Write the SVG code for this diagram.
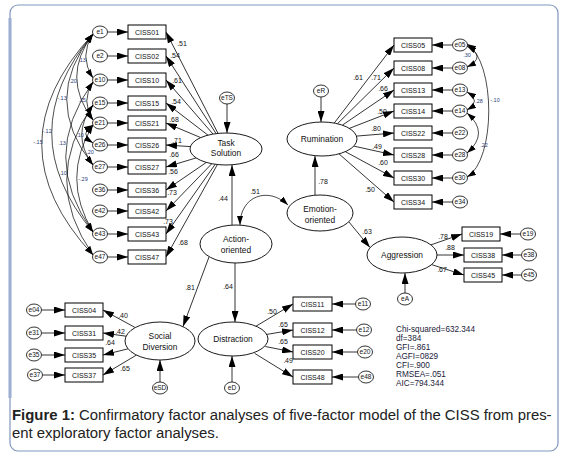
<svg xmlns="http://www.w3.org/2000/svg" width="561" height="454" viewBox="0 0 561 454">
<style>
text{font-family:"Liberation Sans",Arial,sans-serif;fill:#111}
.box{fill:#fff;stroke:#000;stroke-width:1}
.lat{fill:#fff;stroke:#000;stroke-width:0.9}
.err{fill:#fff;stroke:#000;stroke-width:0.8}
.bt{font-size:7px;text-anchor:middle}
.et{font-size:6.5px;text-anchor:middle}
.lt{font-size:8.4px;text-anchor:middle}
.num{font-size:7px;text-anchor:middle}
.cv{font-size:5.5px;text-anchor:middle;fill:#2c3e78}
.st{font-size:8.2px;fill:#1a1a3a}
.c{fill:none;stroke:#000;stroke-width:0.8;marker-end:url(#ah)}
.cc{fill:none;stroke:#000;stroke-width:0.7;marker-start:url(#ah2);marker-end:url(#ah2)}
.cap{font-size:14.9px;fill:#222}
</style>
<defs>
<marker id="ah" markerUnits="userSpaceOnUse" markerWidth="11" markerHeight="7" refX="11" refY="3.5" orient="auto"><path d="M0,0 L11,3.5 L0,7 z" fill="#000"/></marker>
<marker id="ah2" markerUnits="userSpaceOnUse" markerWidth="9" markerHeight="6" refX="9" refY="3" orient="auto-start-reverse"><path d="M0,0 L9,3 L0,6 z" fill="#000"/></marker>
</defs>
<rect x="0" y="0" width="561" height="454" fill="#fff"/>
<rect x="8" y="18" width="4" height="380" fill="#c9d4ea"/>
<rect x="10" y="5" width="548" height="446" rx="8" fill="none" stroke="#8097bd" stroke-width="1.2"/>

<g id="connectors">
<line class="c" x1="107.5" y1="32" x2="128" y2="32"/>
<line class="c" x1="107.5" y1="56" x2="128" y2="56"/>
<line class="c" x1="107.5" y1="80" x2="128" y2="80"/>
<line class="c" x1="107.5" y1="103" x2="128" y2="103"/>
<line class="c" x1="107.5" y1="123" x2="128" y2="123"/>
<line class="c" x1="107.5" y1="145" x2="128" y2="145"/>
<line class="c" x1="107.5" y1="167" x2="128" y2="167"/>
<line class="c" x1="107.5" y1="190" x2="128" y2="190"/>
<line class="c" x1="107.5" y1="211" x2="128" y2="211"/>
<line class="c" x1="107.5" y1="234" x2="128" y2="234"/>
<line class="c" x1="107.5" y1="257" x2="128" y2="257"/>
<line class="c" x1="218" y1="133.4" x2="166" y2="32"/>
<line class="c" x1="216.1" y1="133.6" x2="166" y2="56"/>
<line class="c" x1="213" y1="134.1" x2="166" y2="80"/>
<line class="c" x1="208" y1="135.2" x2="166" y2="103"/>
<line class="c" x1="200.7" y1="137.6" x2="166" y2="123"/>
<line class="c" x1="190.4" y1="146.6" x2="166" y2="145"/>
<line class="c" x1="196.2" y1="157.9" x2="166" y2="167"/>
<line class="c" x1="206.4" y1="162.4" x2="166" y2="190"/>
<line class="c" x1="211.8" y1="163.7" x2="166" y2="211"/>
<line class="c" x1="215.2" y1="164.3" x2="166" y2="234"/>
<line class="c" x1="217.4" y1="164.5" x2="166" y2="257"/>
<line class="c" x1="227" y1="104" x2="227" y2="133"/>
<path class="cc" d="M93,34 Q78.5,56 93,78"/>
<path class="cc" d="M93,34 Q60.5,77 93,120"/>
<path class="cc" d="M93,34 Q40.5,99.5 93,165"/>
<path class="cc" d="M93,82 Q80.5,101 93,120"/>
<path class="cc" d="M93,34 Q10.5,133 93,232"/>
<path class="cc" d="M93,34 Q-9.5,144.5 93,255"/>
<path class="cc" d="M93,125 Q78.5,133.5 93,143"/>
<path class="cc" d="M93,82 Q38.5,157 93,232"/>
<path class="cc" d="M93,105 Q70.5,135 93,165"/>
<path class="cc" d="M93,105 Q40.5,180 93,255"/>
<path class="cc" d="M93,125 Q60.5,178 93,232"/>
<line class="c" x1="321" y1="97" x2="321" y2="122"/>
<line class="c" x1="334.2" y1="123.1" x2="394" y2="45"/>
<line class="c" x1="337.5" y1="123.7" x2="394" y2="68"/>
<line class="c" x1="342.3" y1="125.2" x2="394" y2="90"/>
<line class="c" x1="349.3" y1="128.4" x2="394" y2="111"/>
<line class="c" x1="356.5" y1="136.1" x2="394" y2="133"/>
<line class="c" x1="353.8" y1="146.1" x2="394" y2="155"/>
<line class="c" x1="345.4" y1="151.7" x2="394" y2="178"/>
<line class="c" x1="339" y1="153.9" x2="394" y2="202"/>
<line class="c" x1="452.5" y1="45" x2="432" y2="45"/>
<line class="c" x1="452.5" y1="68" x2="432" y2="68"/>
<line class="c" x1="452.5" y1="90" x2="432" y2="90"/>
<line class="c" x1="452.5" y1="111" x2="432" y2="111"/>
<line class="c" x1="452.5" y1="133" x2="432" y2="133"/>
<line class="c" x1="452.5" y1="155" x2="432" y2="155"/>
<line class="c" x1="452.5" y1="178" x2="432" y2="178"/>
<line class="c" x1="452.5" y1="202" x2="432" y2="202"/>
<path class="cc" d="M467,46 Q487,57 467,67"/>
<path class="cc" d="M467,92 Q482,101 467,110"/>
<path class="cc" d="M467,44 C496,62 496,160 467,177"/>
<path class="cc" d="M467,113 Q490,133 467,153"/>
<line class="c" x1="232" y1="225" x2="232" y2="165"/>
<line class="c" x1="209" y1="257" x2="183" y2="326.5"/>
<line class="c" x1="235" y1="263" x2="235" y2="322"/>
<line class="c" x1="315" y1="195" x2="315" y2="156"/>
<line class="c" x1="349" y1="222" x2="370" y2="247.5"/>
<path class="cc" d="M240,225 C240,196 268,186 288,205"/>
<line class="c" x1="430.9" y1="244.9" x2="462" y2="234"/>
<line class="c" x1="437" y1="255" x2="464" y2="255"/>
<line class="c" x1="431.6" y1="264.6" x2="464" y2="275"/>
<line class="c" x1="520.5" y1="234" x2="500" y2="234"/>
<line class="c" x1="521.5" y1="255" x2="502" y2="255"/>
<line class="c" x1="521.5" y1="275" x2="502" y2="275"/>
<line class="c" x1="405" y1="293" x2="405" y2="273"/>
<line class="c" x1="255" y1="326.8" x2="293" y2="304"/>
<line class="c" x1="266.1" y1="334.5" x2="293" y2="330"/>
<line class="c" x1="265.4" y1="346.5" x2="293" y2="352"/>
<line class="c" x1="254.7" y1="353.4" x2="293" y2="377"/>
<line class="c" x1="355.5" y1="304" x2="332" y2="304"/>
<line class="c" x1="356.5" y1="330" x2="332" y2="330"/>
<line class="c" x1="357.5" y1="352" x2="332" y2="352"/>
<line class="c" x1="358.5" y1="377" x2="332" y2="377"/>
<line class="c" x1="232" y1="382" x2="232" y2="356"/>
<line class="c" x1="135.3" y1="327.6" x2="103" y2="310"/>
<line class="c" x1="126.1" y1="336.2" x2="103" y2="333"/>
<line class="c" x1="128.1" y1="348.8" x2="103" y2="355"/>
<line class="c" x1="136.4" y1="355.1" x2="103" y2="375"/>
<line class="c" x1="41.5" y1="310" x2="65" y2="310"/>
<line class="c" x1="41.5" y1="333" x2="65" y2="333"/>
<line class="c" x1="41.5" y1="355" x2="65" y2="355"/>
<line class="c" x1="42.5" y1="375" x2="65" y2="375"/>
<line class="c" x1="160" y1="382" x2="160" y2="360"/>
</g>

<g id="labels">
<text class="num" x="182" y="46">.51</text>
<text class="num" x="175" y="58">.54</text>
<text class="num" x="177" y="83">.61</text>
<text class="num" x="176" y="104">.54</text>
<text class="num" x="174" y="122">.68</text>
<text class="num" x="177" y="143">.71</text>
<text class="num" x="174" y="157">.66</text>
<text class="num" x="173" y="174">.56</text>
<text class="num" x="172" y="195">.73</text>
<text class="num" x="168" y="224">.73</text>
<text class="num" x="183" y="245">.68</text>
<text class="num" x="223" y="201">.44</text>
<text class="num" x="255" y="194">.51</text>
<text class="num" x="323" y="184">.78</text>
<text class="num" x="358" y="80">.61</text>
<text class="num" x="376" y="80">.71</text>
<text class="num" x="383" y="91">.66</text>
<text class="num" x="382" y="114">.50</text>
<text class="num" x="376" y="131">.80</text>
<text class="num" x="377" y="149">.49</text>
<text class="num" x="383" y="165">.60</text>
<text class="num" x="370" y="192">.50</text>
<text class="num" x="367" y="234">.63</text>
<text class="num" x="443" y="239">.78</text>
<text class="num" x="450" y="250">.88</text>
<text class="num" x="442" y="272">.67</text>
<text class="num" x="190" y="290">.81</text>
<text class="num" x="228" y="289">.64</text>
<text class="num" x="272" y="314">.50</text>
<text class="num" x="283" y="327">.65</text>
<text class="num" x="283" y="344">.65</text>
<text class="num" x="288" y="363">.49</text>
<text class="num" x="123" y="318">.40</text>
<text class="num" x="120" y="334">.42</text>
<text class="num" x="110" y="345">.64</text>
<text class="num" x="125" y="371">.65</text>
<text class="cv" x="82" y="62">.13</text>
<text class="cv" x="73" y="83">.20</text>
<text class="cv" x="62" y="100">-.13</text>
<text class="cv" x="82" y="102">.15</text>
<text class="cv" x="47" y="133">-.12</text>
<text class="cv" x="38" y="144">-.15</text>
<text class="cv" x="80" y="137">.10</text>
<text class="cv" x="62" y="145">.13</text>
<text class="cv" x="90" y="154">.20</text>
<text class="cv" x="63" y="175">.10</text>
<text class="cv" x="83" y="181">-.29</text>
<text class="cv" x="467" y="57">.30</text>
<text class="cv" x="479" y="103">.28</text>
<text class="cv" x="495" y="102">-.10</text>
<text class="cv" x="484" y="147">.22</text>
</g>

<g id="TaskSolution"><ellipse class="lat" cx="226" cy="149" rx="36" ry="16"/><text class="lt" x="226" y="146">Task</text><text class="lt" x="226" y="156">Solution</text></g>
<g id="eTS"><ellipse class="err" cx="227" cy="98" rx="7.5" ry="6"/><text class="et" x="227" y="100.3">eTS</text></g>
<g id="ActionOriented"><ellipse class="lat" cx="236" cy="244" rx="36" ry="19"/><text class="lt" x="236" y="242">Action-</text><text class="lt" x="236" y="253">oriented</text></g>
<g id="EmotionOriented"><ellipse class="lat" cx="320" cy="213" rx="33" ry="18"/><text class="lt" x="320" y="212">Emotion-</text><text class="lt" x="320" y="223">oriented</text></g>
<g id="Rumination"><ellipse class="lat" cx="322" cy="139" rx="35" ry="17"/><text class="lt" x="322" y="142">Rumination</text></g>
<g id="eR"><ellipse class="err" cx="321" cy="91" rx="7.5" ry="6"/><text class="et" x="321" y="93.3">eR</text></g>
<g id="Aggression"><ellipse class="lat" cx="402" cy="255" rx="35" ry="18"/><text class="lt" x="402" y="258">Aggression</text></g>
<g id="eA"><ellipse class="err" cx="405" cy="299" rx="7.5" ry="6"/><text class="et" x="405" y="301.3">eA</text></g>
<g id="Distraction"><ellipse class="lat" cx="233" cy="339" rx="35" ry="17"/><text class="lt" x="233" y="342">Distraction</text></g>
<g id="eD"><ellipse class="err" cx="232" cy="388" rx="7.5" ry="6"/><text class="et" x="232" y="390.3">eD</text></g>
<g id="SocialDiversion"><ellipse class="lat" cx="160" cy="341" rx="35" ry="19"/><text class="lt" x="160" y="339">Social</text><text class="lt" x="160" y="350">Diversion</text></g>
<g id="eSD"><ellipse class="err" cx="160" cy="388" rx="7.5" ry="6"/><text class="et" x="160" y="390.3">eSD</text></g>

<g id="CISS01"><rect class="box" x="128" y="25" width="38" height="14"/><text class="bt" x="147" y="34.5">CISS01</text></g>
<g id="CISS02"><rect class="box" x="128" y="49" width="38" height="14"/><text class="bt" x="147" y="58.5">CISS02</text></g>
<g id="CISS10"><rect class="box" x="128" y="73" width="38" height="14"/><text class="bt" x="147" y="82.5">CISS10</text></g>
<g id="CISS15"><rect class="box" x="128" y="96" width="38" height="14"/><text class="bt" x="147" y="105.5">CISS15</text></g>
<g id="CISS21"><rect class="box" x="128" y="116" width="38" height="14"/><text class="bt" x="147" y="125.5">CISS21</text></g>
<g id="CISS26"><rect class="box" x="128" y="138" width="38" height="14"/><text class="bt" x="147" y="147.5">CISS26</text></g>
<g id="CISS27"><rect class="box" x="128" y="160" width="38" height="14"/><text class="bt" x="147" y="169.5">CISS27</text></g>
<g id="CISS36"><rect class="box" x="128" y="183" width="38" height="14"/><text class="bt" x="147" y="192.5">CISS36</text></g>
<g id="CISS42"><rect class="box" x="128" y="204" width="38" height="14"/><text class="bt" x="147" y="213.5">CISS42</text></g>
<g id="CISS43"><rect class="box" x="128" y="227" width="38" height="14"/><text class="bt" x="147" y="236.5">CISS43</text></g>
<g id="CISS47"><rect class="box" x="128" y="250" width="38" height="14"/><text class="bt" x="147" y="259.5">CISS47</text></g>

<g id="e1"><ellipse class="err" cx="100" cy="32" rx="7.5" ry="6"/><text class="et" x="100" y="34.3">e1</text></g>
<g id="e2"><ellipse class="err" cx="100" cy="56" rx="7.5" ry="6"/><text class="et" x="100" y="58.3">e2</text></g>
<g id="e10"><ellipse class="err" cx="100" cy="80" rx="7.5" ry="6"/><text class="et" x="100" y="82.3">e10</text></g>
<g id="e15"><ellipse class="err" cx="100" cy="103" rx="7.5" ry="6"/><text class="et" x="100" y="105.3">e15</text></g>
<g id="e21"><ellipse class="err" cx="100" cy="123" rx="7.5" ry="6"/><text class="et" x="100" y="125.3">e21</text></g>
<g id="e26"><ellipse class="err" cx="100" cy="145" rx="7.5" ry="6"/><text class="et" x="100" y="147.3">e26</text></g>
<g id="e27"><ellipse class="err" cx="100" cy="167" rx="7.5" ry="6"/><text class="et" x="100" y="169.3">e27</text></g>
<g id="e36"><ellipse class="err" cx="100" cy="190" rx="7.5" ry="6"/><text class="et" x="100" y="192.3">e36</text></g>
<g id="e42"><ellipse class="err" cx="100" cy="211" rx="7.5" ry="6"/><text class="et" x="100" y="213.3">e42</text></g>
<g id="e43"><ellipse class="err" cx="100" cy="234" rx="7.5" ry="6"/><text class="et" x="100" y="236.3">e43</text></g>
<g id="e47"><ellipse class="err" cx="100" cy="257" rx="7.5" ry="6"/><text class="et" x="100" y="259.3">e47</text></g>

<g id="CISS05"><rect class="box" x="394" y="38" width="38" height="14"/><text class="bt" x="413" y="47.5">CISS05</text></g>
<g id="CISS08"><rect class="box" x="394" y="61" width="38" height="14"/><text class="bt" x="413" y="70.5">CISS08</text></g>
<g id="CISS13"><rect class="box" x="394" y="83" width="38" height="14"/><text class="bt" x="413" y="92.5">CISS13</text></g>
<g id="CISS14"><rect class="box" x="394" y="104" width="38" height="14"/><text class="bt" x="413" y="113.5">CISS14</text></g>
<g id="CISS22"><rect class="box" x="394" y="126" width="38" height="14"/><text class="bt" x="413" y="135.5">CISS22</text></g>
<g id="CISS28"><rect class="box" x="394" y="148" width="38" height="14"/><text class="bt" x="413" y="157.5">CISS28</text></g>
<g id="CISS30"><rect class="box" x="394" y="171" width="38" height="14"/><text class="bt" x="413" y="180.5">CISS30</text></g>
<g id="CISS34"><rect class="box" x="394" y="195" width="38" height="14"/><text class="bt" x="413" y="204.5">CISS34</text></g>

<g id="e05"><ellipse class="err" cx="460" cy="45" rx="7.5" ry="6"/><text class="et" x="460" y="47.3">e05</text></g>
<g id="e08"><ellipse class="err" cx="460" cy="68" rx="7.5" ry="6"/><text class="et" x="460" y="70.3">e08</text></g>
<g id="e13"><ellipse class="err" cx="460" cy="90" rx="7.5" ry="6"/><text class="et" x="460" y="92.3">e13</text></g>
<g id="e14"><ellipse class="err" cx="460" cy="111" rx="7.5" ry="6"/><text class="et" x="460" y="113.3">e14</text></g>
<g id="e22"><ellipse class="err" cx="460" cy="133" rx="7.5" ry="6"/><text class="et" x="460" y="135.3">e22</text></g>
<g id="e28"><ellipse class="err" cx="460" cy="155" rx="7.5" ry="6"/><text class="et" x="460" y="157.3">e28</text></g>
<g id="e30"><ellipse class="err" cx="460" cy="178" rx="7.5" ry="6"/><text class="et" x="460" y="180.3">e30</text></g>
<g id="e34"><ellipse class="err" cx="460" cy="202" rx="7.5" ry="6"/><text class="et" x="460" y="204.3">e34</text></g>

<g id="CISS19"><rect class="box" x="462" y="227" width="38" height="14"/><text class="bt" x="481" y="236.5">CISS19</text></g>
<g id="CISS38"><rect class="box" x="464" y="248" width="38" height="14"/><text class="bt" x="483" y="257.5">CISS38</text></g>
<g id="CISS45"><rect class="box" x="464" y="268" width="38" height="14"/><text class="bt" x="483" y="277.5">CISS45</text></g>
<g id="e19"><ellipse class="err" cx="528" cy="234" rx="7.5" ry="6"/><text class="et" x="528" y="236.3">e19</text></g>
<g id="e38"><ellipse class="err" cx="529" cy="255" rx="7.5" ry="6"/><text class="et" x="529" y="257.3">e38</text></g>
<g id="e45"><ellipse class="err" cx="529" cy="275" rx="7.5" ry="6"/><text class="et" x="529" y="277.3">e45</text></g>

<g id="CISS11"><rect class="box" x="293" y="297" width="39" height="14"/><text class="bt" x="312.5" y="306.5">CISS11</text></g>
<g id="CISS12"><rect class="box" x="293" y="323" width="39" height="14"/><text class="bt" x="312.5" y="332.5">CISS12</text></g>
<g id="CISS20"><rect class="box" x="293" y="345" width="39" height="14"/><text class="bt" x="312.5" y="354.5">CISS20</text></g>
<g id="CISS48"><rect class="box" x="293" y="370" width="39" height="14"/><text class="bt" x="312.5" y="379.5">CISS48</text></g>
<g id="e11"><ellipse class="err" cx="363" cy="304" rx="7.5" ry="6"/><text class="et" x="363" y="306.3">e11</text></g>
<g id="e12"><ellipse class="err" cx="364" cy="330" rx="7.5" ry="6"/><text class="et" x="364" y="332.3">e12</text></g>
<g id="e20"><ellipse class="err" cx="365" cy="352" rx="7.5" ry="6"/><text class="et" x="365" y="354.3">e20</text></g>
<g id="e48"><ellipse class="err" cx="366" cy="377" rx="7.5" ry="6"/><text class="et" x="366" y="379.3">e48</text></g>

<g id="CISS04"><rect class="box" x="65" y="303" width="38" height="14"/><text class="bt" x="84" y="312.5">CISS04</text></g>
<g id="CISS31"><rect class="box" x="65" y="326" width="38" height="14"/><text class="bt" x="84" y="335.5">CISS31</text></g>
<g id="CISS35"><rect class="box" x="65" y="348" width="38" height="14"/><text class="bt" x="84" y="357.5">CISS35</text></g>
<g id="CISS37"><rect class="box" x="65" y="368" width="38" height="14"/><text class="bt" x="84" y="377.5">CISS37</text></g>
<g id="e04"><ellipse class="err" cx="34" cy="310" rx="7.5" ry="6"/><text class="et" x="34" y="312.3">e04</text></g>
<g id="e31"><ellipse class="err" cx="34" cy="333" rx="7.5" ry="6"/><text class="et" x="34" y="335.3">e31</text></g>
<g id="e35"><ellipse class="err" cx="34" cy="355" rx="7.5" ry="6"/><text class="et" x="34" y="357.3">e35</text></g>
<g id="e37"><ellipse class="err" cx="35" cy="375" rx="7.5" ry="6"/><text class="et" x="35" y="377.3">e37</text></g>

<g id="fit">
<text class="st" x="396" y="332">Chi-squared=632.344</text>
<text class="st" x="396" y="341">df=384</text>
<text class="st" x="396" y="350">GFI=.861</text>
<text class="st" x="396" y="359">AGFI=0829</text>
<text class="st" x="396" y="368">CFI=.900</text>
<text class="st" x="396" y="377">RMSEA=.051</text>
<text class="st" x="396" y="386">AIC=794.344</text>
</g>

<g id="caption">
<text class="cap" x="12" y="420"><tspan font-weight="bold">Figure 1:</tspan> Confirmatory factor analyses of five-factor model of the CISS from pres-</text>
<text class="cap" x="12" y="438">ent exploratory factor analyses.</text>
</g>
</svg>
